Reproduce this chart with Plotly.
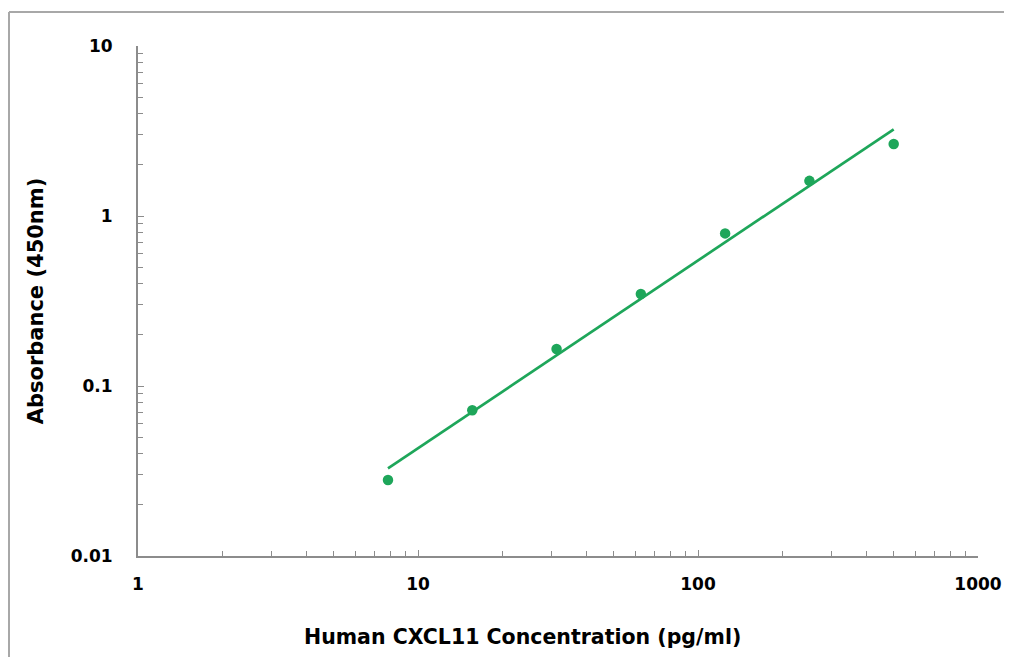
import numpy as np
import plotly.graph_objects as go

concentration = [7.8125, 15.625, 31.25, 62.5, 125, 250, 500]
absorbance = [0.028, 0.072, 0.165, 0.348, 0.79, 1.61, 2.65]

x_ticks = [1, 10, 100, 1000]
x_tick_labels = ["1", "10", "100", "1000"]
y_ticks = [0.01, 0.1, 1, 10]
y_tick_labels = ["0.01", "0.1", "1", "10"]

green = "#1ea65a"
axis_col = "#8c8c8c"
border_col = "#a8a8a8"

# power-law trendline fitted in log space
b, a = np.polyfit(np.log10(concentration), np.log10(absorbance), 1)
fit_x = [concentration[0], concentration[-1]]
fit_y = [10 ** (a + b * np.log10(v)) for v in fit_x]

fig = go.Figure()
fig.add_trace(go.Scatter(x=fit_x, y=fit_y, mode="lines",
                         line=dict(color=green, width=2.7), showlegend=False))
fig.add_trace(go.Scatter(x=concentration, y=absorbance, mode="markers",
                         marker=dict(color=green, size=10.5), showlegend=False))

font_main = "DejaVu Sans, sans-serif"
bx = -129 / 840
by = 1 + 34 / 510

# page body adds an 8px margin; figure sized to fit the window without scrollbars
fig.update_layout(
    width=996, height=649,
    margin=dict(l=130, r=26, t=38, b=101, autoexpand=False),
    paper_bgcolor="white", plot_bgcolor="white",
    font=dict(family=font_main, color="black"),
    shapes=[dict(type="line", xref="paper", yref="paper",
                 x0=bx, x1=1.5, y0=by, y1=by,
                 line=dict(color=border_col, width=2), layer="below"),
            dict(type="line", xref="paper", yref="paper",
                 x0=bx, x1=bx, y0=-0.5, y1=by,
                 line=dict(color=border_col, width=2), layer="below")],
    annotations=[dict(text="<b>Human CXCL11 Concentration (pg/ml)</b>",
                      xref="paper", yref="paper", x=(522 - 138) / 840,
                      y=(556 - 637) / 510, xanchor="center", yanchor="middle",
                      showarrow=False, font=dict(size=20.5, family=font_main))],
)
fig.update_xaxes(
    type="log", range=[0, 3], automargin=False,
    tickvals=x_ticks, ticktext=x_tick_labels,
    ticks="inside", ticklen=6, tickcolor=axis_col, tickwidth=1,
    minor=dict(ticks="inside", ticklen=5, tickcolor=axis_col, dtick="D1", showgrid=False),
    showline=True, linecolor=axis_col, linewidth=2,
    showgrid=False, zeroline=False,
    tickfont=dict(size=17, family=font_main, weight="bold"),
    ticklabelstandoff=12,
)
fig.update_yaxes(
    type="log", range=[-2, 1], automargin=False,
    tickvals=y_ticks, ticktext=y_tick_labels,
    ticks="inside", ticklen=6, tickcolor=axis_col, tickwidth=1,
    minor=dict(ticks="inside", ticklen=5, tickcolor=axis_col, dtick="D1", showgrid=False),
    showline=True, linecolor=axis_col, linewidth=2,
    showgrid=False, zeroline=False,
    tickfont=dict(size=17, family=font_main, weight="bold"),
    ticklabelstandoff=20,
    title=dict(text="<b>Absorbance (450nm)</b>",
               font=dict(size=21, family=font_main), standoff=21),
)

fig.write_html("out.html")
